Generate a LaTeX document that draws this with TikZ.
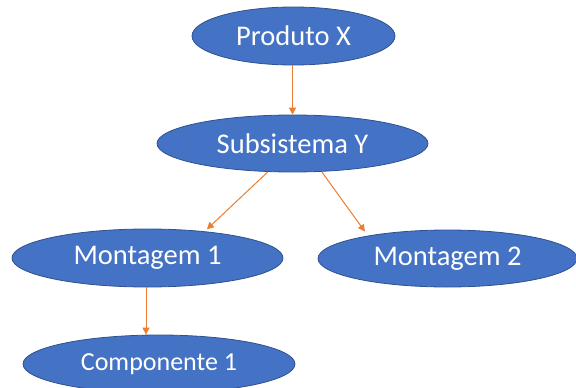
\documentclass[tikz,border=0pt]{standalone}
\usepackage{fontspec}
\setmainfont{Carlito}
\usepackage{xcolor}
\usetikzlibrary{shapes.geometric,arrows.meta}
\definecolor{azulbloco}{HTML}{4472C4}
\definecolor{azulborda}{HTML}{2F528F}
\definecolor{laranja}{HTML}{ED7D31}

\begin{document}
\begin{tikzpicture}[x=1pt, y=-1pt,
    bloco/.style={ellipse, draw=azulborda, line width=0.8pt, fill=azulbloco,
      text=white, inner sep=0pt, font=\fontsize{28.5}{34}\selectfont},
    liga/.style={draw=laranja, line width=1pt,
      -{Triangle[width=7pt, length=7pt]}}]
  \useasboundingbox (0,0) rectangle (576,388);
  \node [bloco, minimum width=203pt, minimum height=58pt] (produto) at (293.5,36) {Produto X};
  \node [bloco, minimum width=271pt, minimum height=57pt] (subsist) at (292.5,143.5) {Subsistema Y};
  \node [bloco, minimum width=271pt, minimum height=58pt] (mont1) at (147.5,258) {Montagem 1};
  \node [bloco, minimum width=259pt, minimum height=57pt] (mont2) at (447.5,258.5) {Montagem 2};
  \node [bloco, minimum width=272pt, minimum height=58pt,
    font=\fontsize{26}{31}\selectfont] (comp1) at (159,364) {Componente 1};
  \draw [liga] (subsist.north |- produto.south) -- (subsist.north);
  \draw [liga, shorten >=3pt] (subsist.229) -- (mont1.25);
  \draw [liga, shorten >=5pt] (subsist.316) -- (mont2.164);
  \draw [liga] ([xshift=-1.5pt]mont1.south) -- ([xshift=-1.5pt]mont1.south |- comp1.north);
\end{tikzpicture}
\end{document}
